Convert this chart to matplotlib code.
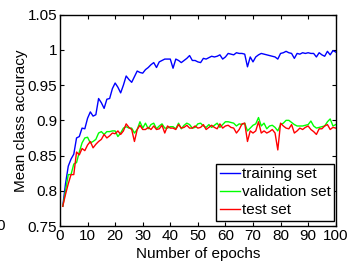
import numpy as np
import matplotlib
matplotlib.use("Agg")
import matplotlib.pyplot as plt

plt.rcParams['font.family'] = ['Liberation Sans', 'DejaVu Sans']

epochs = list(range(1, 101))

training = [
    0.778, 0.810, 0.835, 0.845, 0.852, 0.875, 0.877, 0.889, 0.888, 0.903,
    0.912, 0.906, 0.908, 0.931, 0.925, 0.917, 0.930, 0.931, 0.945, 0.953,
    0.947, 0.939, 0.950, 0.963, 0.958, 0.954, 0.962, 0.970, 0.968, 0.967,
    0.972, 0.975, 0.979, 0.982, 0.975, 0.983, 0.985, 0.987, 0.987, 0.987,
    0.974, 0.987, 0.985, 0.982, 0.985, 0.988, 0.992, 0.985, 0.985, 0.983,
    0.982, 0.988, 0.987, 0.989, 0.991, 0.990, 0.991, 0.993, 0.987, 0.990,
    0.995, 0.994, 0.993, 0.996, 0.995, 0.995, 0.994, 0.976, 0.990, 0.983,
    0.990, 0.993, 0.995, 0.994, 0.993, 0.992, 0.991, 0.990, 0.987, 0.995,
    0.996, 0.998, 0.996, 0.995, 0.988, 0.995, 0.994, 0.996, 0.995, 0.996,
    0.995, 0.995, 0.990, 0.996, 0.993, 0.991, 0.998, 0.993, 0.999, 0.997,
]

validation = [
    0.778, 0.800, 0.823, 0.823, 0.838, 0.840, 0.855, 0.868, 0.875, 0.876,
    0.868, 0.870, 0.873, 0.882, 0.884, 0.880, 0.884, 0.884, 0.885, 0.885,
    0.877, 0.882, 0.889, 0.891, 0.889, 0.889, 0.882, 0.887, 0.898, 0.889,
    0.896, 0.888, 0.894, 0.896, 0.888, 0.892, 0.895, 0.889, 0.889, 0.891,
    0.891, 0.888, 0.896, 0.888, 0.893, 0.896, 0.894, 0.889, 0.890, 0.895,
    0.896, 0.892, 0.890, 0.894, 0.890, 0.893, 0.896, 0.890, 0.894, 0.898,
    0.898, 0.897, 0.896, 0.892, 0.895, 0.894, 0.896, 0.885, 0.889, 0.893,
    0.895, 0.904, 0.892, 0.896, 0.888, 0.892, 0.893, 0.890, 0.885, 0.894,
    0.896, 0.900, 0.900, 0.897, 0.894, 0.892, 0.892, 0.892, 0.893, 0.894,
    0.899, 0.892, 0.889, 0.890, 0.891, 0.892, 0.898, 0.902, 0.892, 0.894,
]

test = [
    0.778, 0.795, 0.810, 0.823, 0.823, 0.855, 0.851, 0.860, 0.857, 0.865,
    0.870, 0.861, 0.866, 0.870, 0.873, 0.880, 0.875, 0.878, 0.882, 0.881,
    0.885, 0.880, 0.885, 0.895, 0.890, 0.887, 0.870, 0.887, 0.893, 0.887,
    0.887, 0.890, 0.887, 0.892, 0.887, 0.888, 0.893, 0.882, 0.892, 0.889,
    0.889, 0.887, 0.894, 0.889, 0.890, 0.893, 0.889, 0.889, 0.892, 0.889,
    0.890, 0.894, 0.887, 0.890, 0.893, 0.890, 0.888, 0.895, 0.889, 0.892,
    0.893, 0.890, 0.889, 0.882, 0.887, 0.895, 0.896, 0.870, 0.885, 0.882,
    0.885, 0.898, 0.882, 0.885, 0.882, 0.884, 0.887, 0.882, 0.858, 0.896,
    0.892, 0.889, 0.888, 0.894, 0.882, 0.885, 0.889, 0.887, 0.890, 0.892,
    0.887, 0.884, 0.880, 0.888, 0.888, 0.892, 0.894, 0.887, 0.890, 0.889,
]

series_labels = ["training set", "validation set", "test set"]
series_colors = ["#0000ff", "#00ff00", "#ff0000"]

xticks = [0, 10, 20, 30, 40, 50, 60, 70, 80, 90, 100]
yticks = [0.75, 0.8, 0.85, 0.9, 0.95, 1.0, 1.05]
ytick_labels = ["0.75", "0.8", "0.85", "0.9", "0.95", "1", "1.05"]

FS = 11

fig = plt.figure(figsize=(3.5, 2.65), dpi=100)
ax = fig.add_axes([60/350, 1-226/265, (335.7-60)/350, (226-14.7)/265])

for vals, lab, col in zip([training, validation, test], series_labels, series_colors):
    ax.plot(epochs, vals, color=col, lw=1.0, label=lab)

ax.set_xlim(0, 100)
ax.set_ylim(0.75, 1.05)
ax.set_xticks(xticks)
ax.set_yticks(yticks)
ax.set_yticklabels(ytick_labels)
ax.tick_params(direction='in', top=True, right=True, length=3, width=0.8,
               labelsize=FS, pad=2, colors='black')
for s in ax.spines.values():
    s.set_linewidth(1.0)
    s.set_color('black')

ax.set_xlabel("Number of epochs", fontsize=FS, labelpad=3)
ax.set_ylabel("Mean class accuracy", fontsize=FS, labelpad=0)

leg = ax.legend(loc='lower right', bbox_to_anchor=(0.995, 0.024), borderaxespad=0,
                fontsize=FS, handlelength=1.3, handletextpad=0.1,
                borderpad=0.25, labelspacing=0.25, fancybox=False,
                framealpha=1, edgecolor='black')
leg.get_frame().set_linewidth(1.0)

fig.text(5/350, 1-226/265, "0", ha='right', va='center', fontsize=FS)

fig.savefig("out.png", dpi=100)
